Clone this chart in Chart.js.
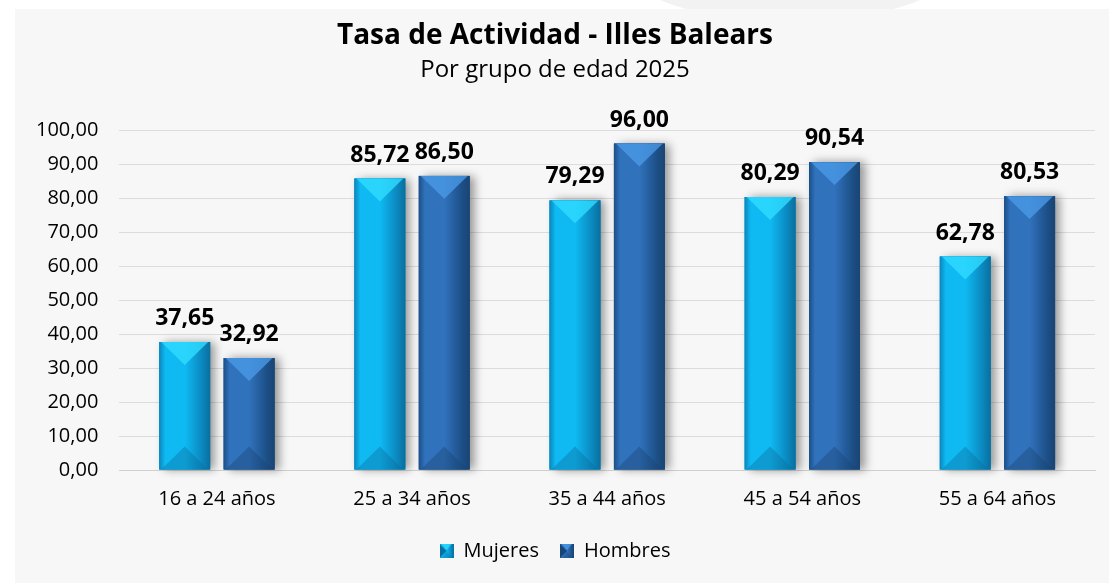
<!DOCTYPE html>
<html>
<head>
<meta charset="utf-8">
<script src="https://cdn.jsdelivr.net/npm/chart.js@4/dist/chart.umd.min.js"></script>
<style>
  html, body { margin: 0; padding: 0; background: #fff; }
  #wrap { position: relative; width: 1109px; height: 583px; overflow: hidden; }
  #panel { position: absolute; left: 15px; top: 9px; width: 1094px; height: 574px; background: #f7f7f7; }
  #bump { position: absolute; left: 640px; top: -60px; width: 300px; height: 80px; border-radius: 50%; background: #f2f2f2; }
  #chart { position: absolute; left: 0; top: 0; }
</style>
</head>
<body>
<div id="wrap">
  <div id="bump"></div>
  <div id="panel"></div>
  <canvas id="chart" width="1109" height="583"></canvas>
</div>
<script>
var categories = ['16 a 24 años', '25 a 34 años', '35 a 44 años', '45 a 54 años', '55 a 64 años'];
var mujeres = [37.65, 85.72, 79.29, 80.29, 62.78];
var hombres = [32.92, 86.50, 96.00, 90.54, 80.53];
var yTicks = [0, 10, 20, 30, 40, 50, 60, 70, 80, 90, 100];

var FONT = '"Open Sans", "Noto Sans", sans-serif';

var palettes = [
  { edge: '#0b86bd', mid: '#0fbaf3', light: '#2fdcff', dark: '#0a6f9e' },
  { edge: '#1c4f86', mid: '#3172bd', light: '#4a98e6', dark: '#1a4473' }
];

function fmt(v) {
  return v.toFixed(2).replace('.', ',');
}

function drawBevel(ctx, left, top, w, h, p) {
  var g = ctx.createLinearGradient(left, 0, left + w, 0);
  g.addColorStop(0, p.edge);
  g.addColorStop(0.12, p.mid);
  g.addColorStop(0.5, p.mid);
  g.addColorStop(0.85, p.edge);
  g.addColorStop(1, p.dark);
  ctx.fillStyle = g;
  ctx.fillRect(left, top, w, h);

  var d = Math.min(w * 0.45, h / 2);
  // top face
  ctx.fillStyle = p.light;
  ctx.globalAlpha = 0.8;
  ctx.beginPath();
  ctx.moveTo(left + 2, top);
  ctx.lineTo(left + w - 2, top);
  ctx.lineTo(left + w / 2, top + d);
  ctx.closePath();
  ctx.fill();
  // bottom face
  ctx.fillStyle = p.dark;
  ctx.globalAlpha = 0.4;
  ctx.beginPath();
  ctx.moveTo(left + 2, top + h);
  ctx.lineTo(left + w - 2, top + h);
  ctx.lineTo(left + w / 2, top + h - d);
  ctx.closePath();
  ctx.fill();
  ctx.globalAlpha = 1;
}

function legendBox(p) {
  var c = document.createElement('canvas');
  c.width = 14; c.height = 14;
  var x = c.getContext('2d');
  drawBevel(x, 0, 0, 14, 14, p);
  x.fillStyle = p.dark;
  x.beginPath();
  x.moveTo(0, 0); x.lineTo(7, 7); x.lineTo(0, 14); x.closePath();
  x.fill();
  return c;
}

var bevelPlugin = {
  id: 'bevel',
  afterDatasetsDraw: function(chart) {
    var ctx = chart.ctx;
    chart.data.datasets.forEach(function(ds, i) {
      var meta = chart.getDatasetMeta(i);
      meta.data.forEach(function(bar, j) {
        var w = bar.width;
        var left = bar.x - w / 2;
        var top = bar.y;
        var h = bar.base - bar.y;
        ctx.save();
        // shadow
        ctx.shadowColor = 'rgba(0,0,0,0.4)';
        ctx.shadowBlur = 9;
        ctx.shadowOffsetX = 5;
        ctx.shadowOffsetY = 0;
        ctx.fillStyle = palettes[i].edge;
        ctx.fillRect(left, top, w, h);
        ctx.restore();
        ctx.save();
        drawBevel(ctx, left, top, w, h, palettes[i]);
        // value label
        ctx.fillStyle = '#000';
        ctx.font = 'bold 23px ' + FONT;
        ctx.textAlign = 'center';
        ctx.textBaseline = 'bottom';
        ctx.fillText(fmt(ds.data[j]), bar.x, top - 12);
        ctx.restore();
      });
    });
  }
};

new Chart(document.getElementById('chart'), {
  type: 'bar',
  data: {
    labels: categories,
    datasets: [
      { label: 'Mujeres', data: mujeres, backgroundColor: palettes[0].mid, pointStyle: legendBox(palettes[0]) },
      { label: 'Hombres', data: hombres, backgroundColor: palettes[1].mid, pointStyle: legendBox(palettes[1]) }
    ]
  },
  options: {
    responsive: false,
    animation: false,
    events: [],
    layout: { padding: { left: 15, right: 14, top: 10, bottom: 12 } },
    datasets: {
      bar: { categoryPercentage: 0.66, barPercentage: 0.79 }
    },
    scales: {
      x: {
        grid: { display: false },
        border: { color: '#d0d0d0', width: 1 },
        ticks: { color: '#000', font: { family: FONT, size: 20 }, padding: 9 }
      },
      y: {
        min: 0,
        max: 100,
        afterBuildTicks: function(axis) {
          axis.ticks = yTicks.map(function(v) { return { value: v }; });
        },
        grid: { color: '#dcdcdc', tickLength: 0, drawTicks: false },
        border: { display: false },
        ticks: {
          color: '#000',
          font: { family: FONT, size: 20 },
          padding: 21,
          callback: function(v) { return fmt(v); }
        }
      }
    },
    plugins: {
      tooltip: { enabled: false },
      title: {
        display: true,
        text: 'Tasa de Actividad - Illes Balears',
        color: '#000',
        font: { family: FONT, size: 28, weight: 'bold' },
        padding: { top: 9, bottom: 3 }
      },
      subtitle: {
        display: true,
        text: 'Por grupo de edad 2025',
        color: '#000',
        font: { family: FONT, size: 24 },
        padding: { top: 0, bottom: 45.6 }
      },
      legend: {
        position: 'bottom',
        labels: {
          usePointStyle: true,
          boxWidth: 14,
          boxHeight: 14,
          color: '#000',
          font: { family: FONT, size: 20 },
          padding: 21
        }
      }
    }
  },
  plugins: [bevelPlugin]
});
</script>
</body>
</html>
